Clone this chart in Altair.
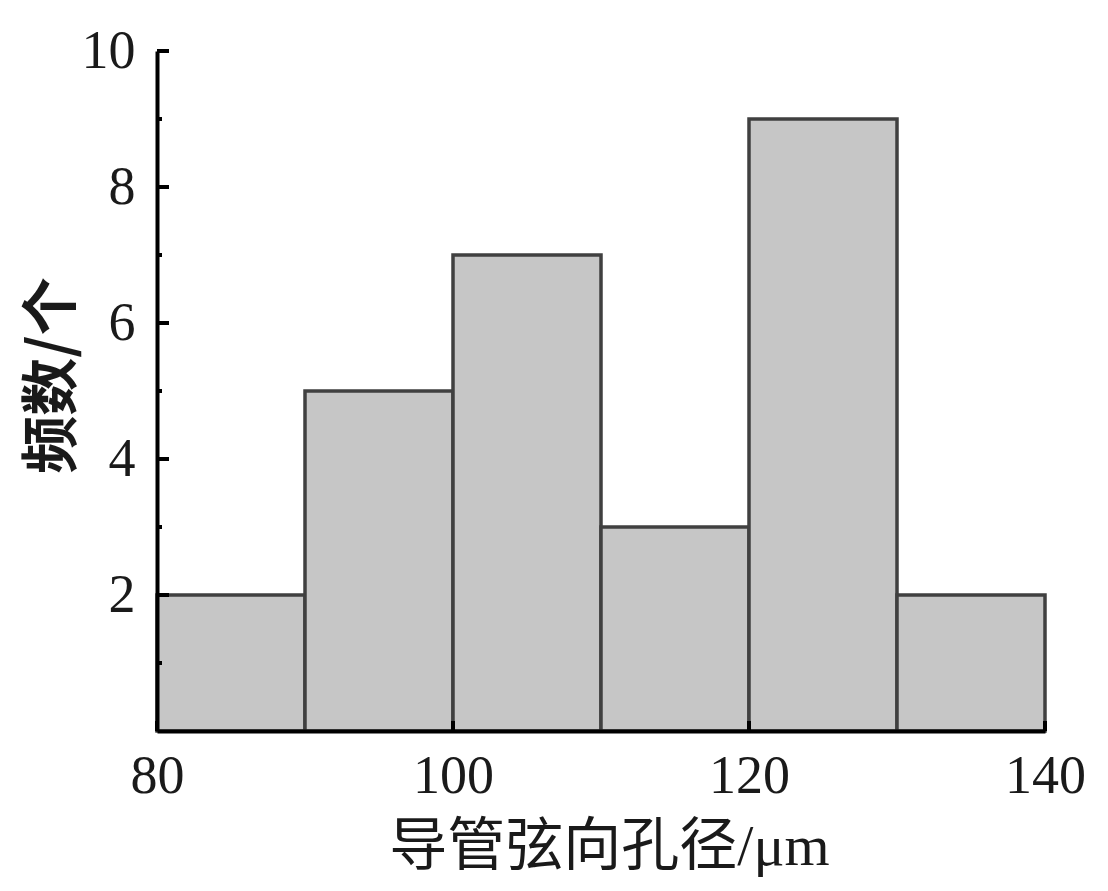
import altair as alt
import pandas as pd

bin_start = [80, 90, 100, 110, 120, 130]
bin_end = [90, 100, 110, 120, 130, 140]
counts = [2, 5, 7, 3, 9, 2]

y_major = [2, 4, 6, 8, 10]
y_minor = [1, 3, 5, 7, 9]
x_ticks = [80, 100, 120, 140]

x_title = "导管弦向孔径/μm"
y_title = "频数/个"

bars_df = pd.DataFrame({"start": bin_start, "end": bin_end, "count": counts})
ymaj_df = pd.DataFrame({"v": y_major})
ymin_df = pd.DataFrame({"v": y_minor})
xt_df = pd.DataFrame({"v": x_ticks})

serif = "Liberation Serif, Noto Sans CJK SC"

xscale = alt.Scale(domain=[80, 140], nice=False, zero=False)
yscale = alt.Scale(domain=[0, 10], nice=False)

xaxis = alt.Axis(
    values=x_ticks, title=x_title, tickSize=0, grid=False, labelPadding=18, format="d",
    labelFont="Liberation Serif", labelFontSize=54, labelColor="#1a1a1a",
    titleFont=serif, titleFontSize=58, titleFontWeight="normal", titleColor="#1a1a1a",
    titleX=452, titleY=116, titleBaseline="middle",
    domainColor="black", domainWidth=4, zindex=2, labelFlush=False,
)
yaxis = alt.Axis(
    values=y_major, title=y_title, tickSize=0, grid=False, labelPadding=22, format="d",
    labelFont="Liberation Serif", labelFontSize=54, labelColor="#1a1a1a",
    titleFont="Noto Sans CJK SC", titleFontSize=58, titleFontWeight="bold", titleColor="#1a1a1a",
    titleX=-104, titleY=324, titleAngle=-90, titleAlign="center", titleBaseline="middle",
    domainColor="black", domainWidth=4, zindex=2,
)

bars = alt.Chart(bars_df).mark_rect(
    fill="#c6c6c6", stroke="#404040", strokeWidth=3.5
).encode(
    x=alt.X("start:Q", scale=xscale, axis=xaxis),
    x2="end:Q",
    y=alt.Y("count:Q", scale=yscale, axis=yaxis),
    y2=alt.datum(0),
)

ymaj = alt.Chart(ymaj_df).mark_rule(color="black", strokeWidth=4).encode(
    y=alt.Y("v:Q", scale=yscale), x=alt.value(0), x2=alt.value(12)
)
ymin = alt.Chart(ymin_df).mark_rule(color="black", strokeWidth=4).encode(
    y=alt.Y("v:Q", scale=yscale), x=alt.value(0), x2=alt.value(5)
)
xt = alt.Chart(xt_df).mark_rule(color="black", strokeWidth=4).encode(
    x=alt.X("v:Q", scale=xscale), y=alt.value(680), y2=alt.value(670)
)

chart = alt.layer(bars, xt, ymaj, ymin).properties(
    width=888, height=680,
    autosize=alt.AutoSizeParams(type="none"),
    padding={"left": 149, "top": 43, "right": 50, "bottom": 150},
).configure(background="white", view=alt.ViewConfig(stroke=None))

chart.save("out.html", embed_options={"renderer": "svg", "actions": False})
